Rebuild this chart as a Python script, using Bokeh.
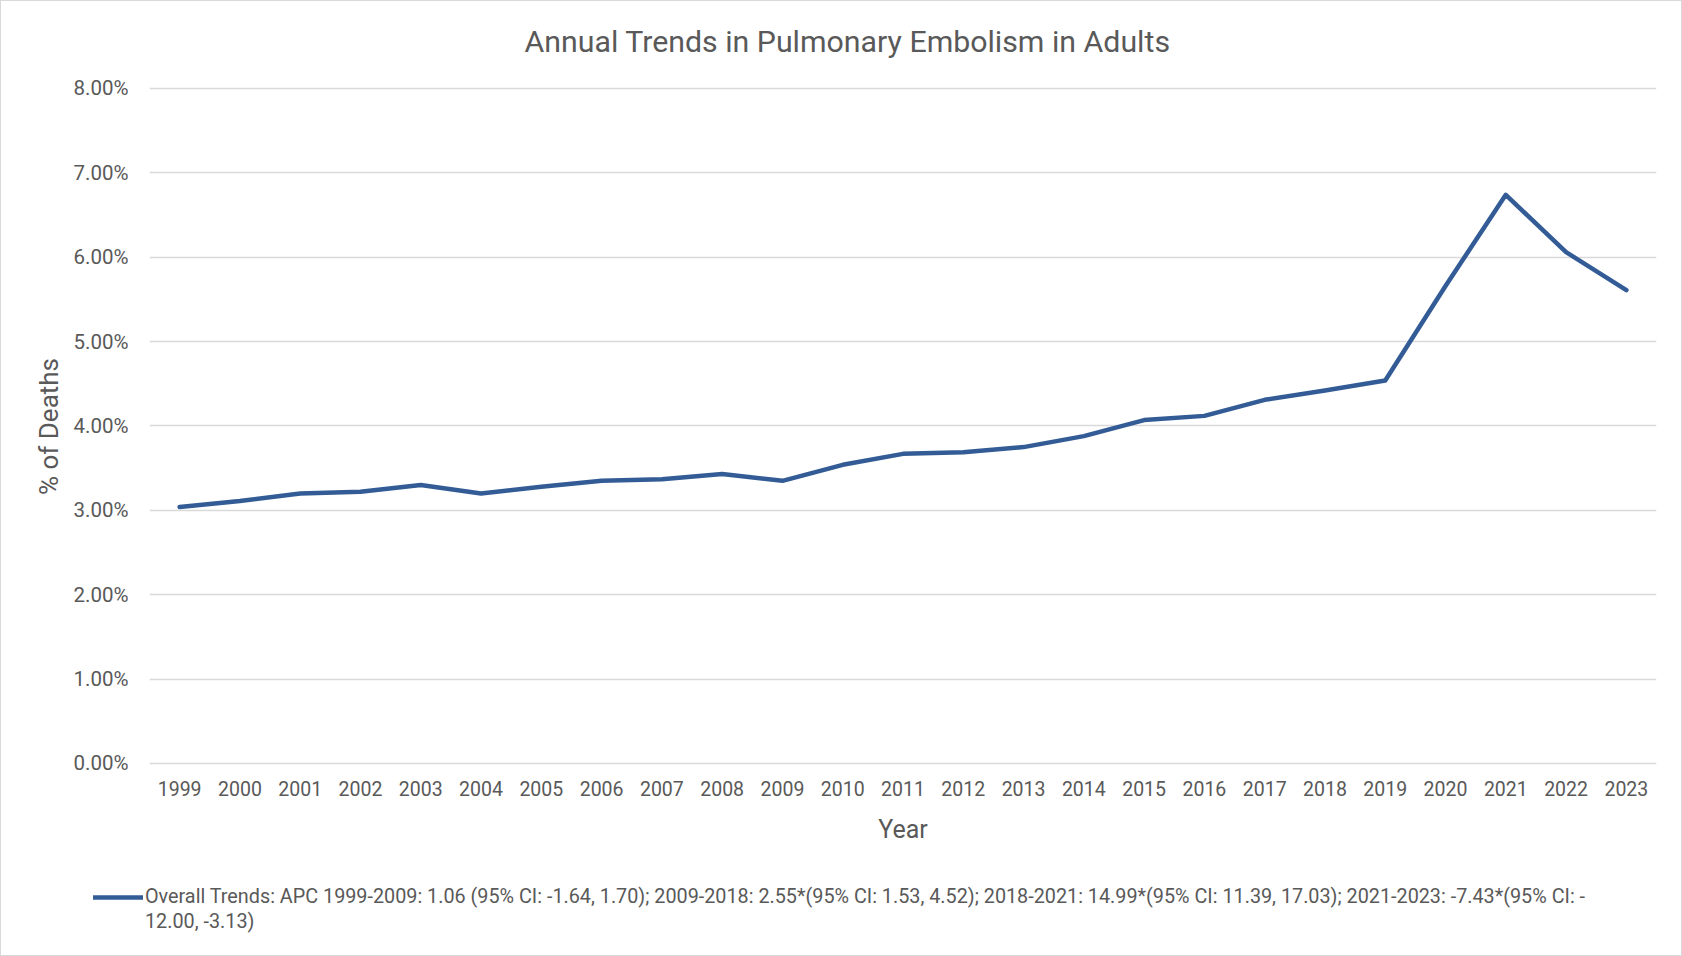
from bokeh.plotting import figure
from bokeh.layouts import column, row
from bokeh.models import (Range1d, FactorRange, FixedTicker, PrintfTickFormatter,
                          Legend, LegendItem, ColumnDataSource)
from bokeh.embed import file_html
from bokeh.resources import INLINE

years = [str(y) for y in range(1999, 2024)]
pct_deaths = [3.04, 3.11, 3.20, 3.22, 3.30, 3.20, 3.28, 3.35, 3.37, 3.43,
              3.35, 3.54, 3.67, 3.69, 3.75, 3.88, 4.07, 4.12, 4.31, 4.42,
              4.54, 5.66, 6.74, 6.06, 5.61]
y_ticks = [0, 1, 2, 3, 4, 5, 6, 7, 8]
title_text = "Annual Trends in Pulmonary Embolism in Adults"
legend_line1 = ("Overall Trends: APC 1999-2009: 1.06 (95% CI: -1.64, 1.70); 2009-2018: 2.55*(95% CI: 1.53, 4.52); "
                "2018-2021: 14.99*(95% CI: 11.39, 17.03); 2021-2023: -7.43*(95% CI: -")
legend_line2 = "12.00, -3.13)"

FONT = "Roboto"
GREY = "#595959"
BLUE = "#335C96"
W, HT, H1, H2 = 1680, 60, 800, 94
FL, FR, FT, FB = 148, 1655, 85, 765   # frame edges in page pixels

# ---- title strip ----
t = figure(width=W, height=HT, output_backend="svg", toolbar_location=None,
           x_range=Range1d(0, 1), y_range=Range1d(0, 1),
           x_axis_type=None, y_axis_type=None, min_border=0,
           min_border_top=57)
t.outline_line_color = None
t.border_fill_color = "white"
t.background_fill_color = "white"
t.title.text = title_text
t.title.align = "left"
t.title.offset = 375
t.title.text_font = FONT
t.title.text_font_size = "30.3px"
t.title.text_font_style = "normal"
t.title.text_color = GREY
t.title.standoff = 0

# ---- main chart ----
p = figure(width=W, height=H1, output_backend="svg", toolbar_location=None,
           x_range=FactorRange(*years, range_padding=0),
           y_range=Range1d(-0.0356, 8.0237),
           min_border_left=FL, min_border_right=W - FR,
           min_border_top=FT - HT, min_border_bottom=HT + H1 - FB)
p.outline_line_color = None
p.background_fill_color = "white"
p.border_fill_color = "white"

src = ColumnDataSource(dict(year=years, val=pct_deaths))
r = p.line("year", "val", source=src, line_color=BLUE, line_width=4.5,
           line_join="round", line_cap="round")

p.yaxis.ticker = FixedTicker(ticks=y_ticks)
p.yaxis.formatter = PrintfTickFormatter(format="%.2f%%")
for ax in (p.xaxis[0], p.yaxis[0]):
    ax.axis_line_color = None
    ax.major_tick_line_color = None
    ax.minor_tick_line_color = None
    ax.major_tick_in = 0
    ax.major_tick_out = 0
    ax.major_label_text_font = FONT
    ax.major_label_text_color = GREY
    ax.axis_label_text_font = FONT
    ax.axis_label_text_color = GREY
    ax.axis_label_text_font_style = "normal"

p.yaxis.major_label_text_font_size = "20.5px"
p.yaxis.major_label_standoff = 21
p.yaxis.axis_label = "% of Deaths"
p.yaxis.axis_label_text_font_size = "26px"
p.yaxis.axis_label_standoff = 7

p.xaxis.major_label_text_font_size = "19.5px"
p.xaxis.major_label_standoff = 14
p.xaxis.axis_label = "Year"
p.xaxis.axis_label_text_font_size = "25px"
p.xaxis.axis_label_standoff = 16

p.xgrid.grid_line_color = None
p.ygrid.grid_line_color = "#D9D9D9"
p.ygrid.grid_line_width = 1.5
p.ygrid.ticker = FixedTicker(ticks=y_ticks)

# ---- legend strip ----
q = figure(width=W, height=H2, output_backend="svg", toolbar_location=None,
           x_range=Range1d(0, 1), y_range=Range1d(0, 1),
           x_axis_type=None, y_axis_type=None, min_border=0)
q.outline_line_color = None
q.background_fill_color = "white"
q.border_fill_color = "white"
nan = float("nan")
q_line = q.line(x=[nan], y=[nan], line_color=BLUE, line_width=4.5, line_cap="round")
q_blank = q.line(x=[nan], y=[nan], line_alpha=0)

legend = Legend(items=[LegendItem(label=legend_line1, renderers=[q_line]),
                       LegendItem(label=legend_line2, renderers=[q_blank])],
                location=(92, 22),
                glyph_width=50, glyph_height=20, label_height=20,
                label_standoff=2, padding=0, margin=0, spacing=2,
                border_line_color=None, background_fill_alpha=0,
                label_text_font=FONT, label_text_font_size="19.8px",
                label_text_color=GREY)
q.add_layout(legend, "center")

layout = column(t, p, row(q, spacing=0), spacing=0,
                styles={"border": "1px solid #D9D9D9"})

open("out.html", "w").write(file_html(layout, INLINE))
